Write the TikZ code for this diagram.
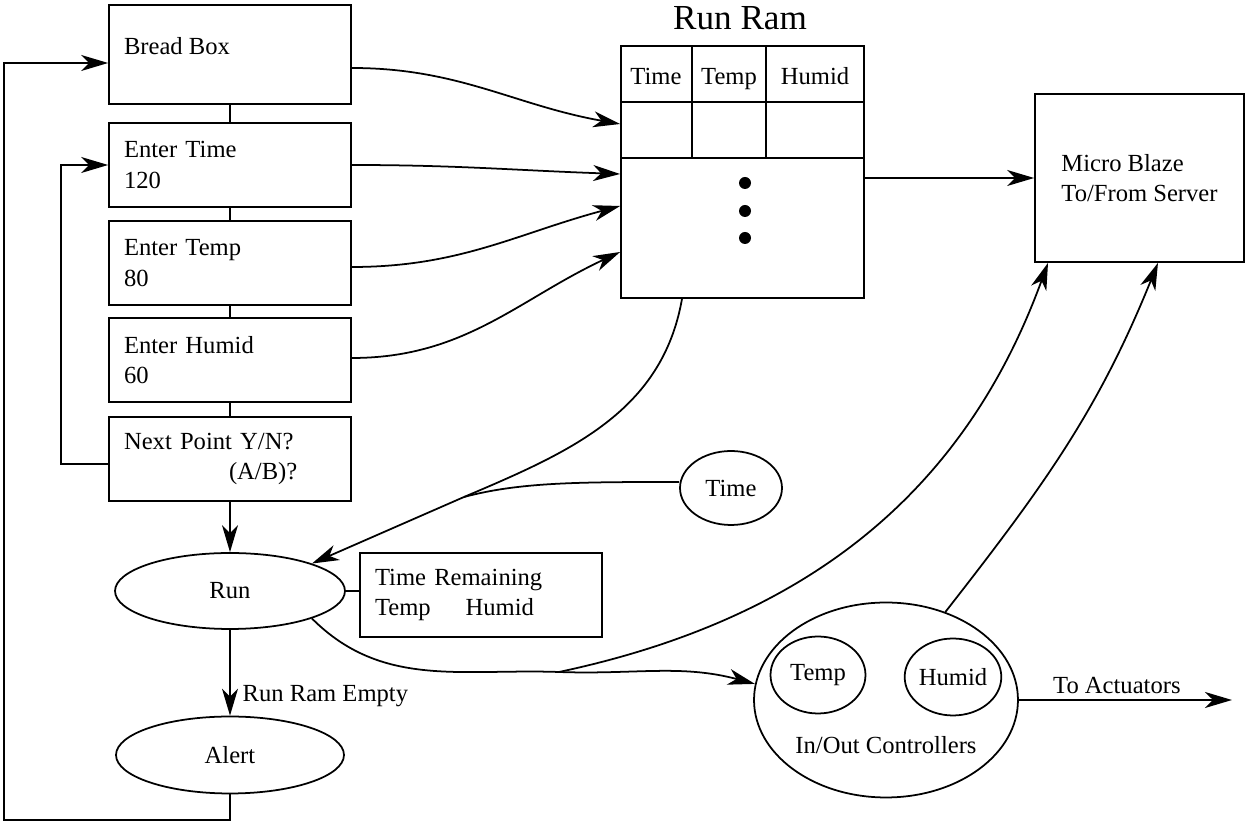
\documentclass[tikz,border=0pt]{standalone}
\usepackage{fontspec}
\setmainfont{Liberation Serif}
\usetikzlibrary{arrows.meta,shapes.geometric}

\begin{document}
\begin{tikzpicture}[x=0.02cm,y=0.02cm,line width=1pt,
  font=\fontsize{14}{17.5}\selectfont,
  arr/.style={-{Stealth[length=5.4mm,width=3.2mm,inset=1.6mm]}},
  blk/.style={draw,rectangle,minimum height=1.68cm,inner xsep=0.3cm,text width=4.24cm,align=left},
  oval/.style={draw,ellipse,inner sep=0pt}]
\useasboundingbox (0,0) rectangle (1249,825);

\node[blk,minimum height=1.98cm,label={[anchor=north west,inner sep=0pt,xshift=0.3cm,yshift=-0.64cm]north west:Bread Box}] (bread) at (230,770.5) {};
\node[blk] (etime) at (230,660) {Enter Time\\120};
\node[blk] (etemp) at (230,562) {Enter Temp\\80};
\node[blk] (ehumid) at (230,465) {Enter Humid\\60};
\node[blk] (next) at (230,366) {Next Point Y/N?\\\hspace*{2.1cm}(A/B)?};
\node[oval,minimum width=4.6cm,minimum height=1.52cm] (run) at (230,234) {Run};
\node[oval,minimum width=4.56cm,minimum height=1.54cm] (alert) at (230,70) {Alert};
\node[blk] (trem) at (481,230) {Time Remaining\\Temp\hspace{0.7cm}Humid};

\node[draw,minimum width=4.86cm,minimum height=5.04cm,inner sep=0pt] (ram) at (742.5,653) {};
\node[font=\fontsize{20}{24}\selectfont] (ramtitle) at (740,807) {Run Ram};
\draw (621,723) -- (864,723);
\draw (621,667) -- (864,667);
\draw (692,779) -- (692,667);
\draw (766,779) -- (766,667);
\node[anchor=base] (hTime) at (656,740) {Time};
\node[anchor=base] (hTemp) at (729,740) {Temp};
\node[anchor=base] (hHumid) at (815,740) {Humid};
\foreach \y in {642,614,587} \fill (745,\y) circle (0.12cm);

\node[draw,minimum width=4.18cm,minimum height=3.36cm,align=left] (mb) at (1139.5,647) {Micro Blaze\\To/From Server};
\node[oval,minimum width=2.04cm,minimum height=1.48cm] (time) at (731,337) {Time};
\node[oval,minimum width=5.28cm,minimum height=3.9cm] (io) at (886,125) {};
\node[oval,minimum width=1.9cm,minimum height=1.54cm] (iotemp) at (818,150) {Temp};
\node[oval,minimum width=1.88cm,minimum height=1.54cm] (iohum) at (953,148) {Humid};
\node (iolbl) at (886,80) {In/Out Controllers};

\coordinate (lpa) at (61,361);
\coordinate (lpb) at (4,5);
\coordinate (tj) at (464,328);
\coordinate (sp) at (559,153);
\coordinate (act) at (1232,0);

\foreach \a/\b in {bread/etime,etime/etemp,etemp/ehumid,ehumid/next} \draw (\a) -- (\b);
\draw[arr] (next) -- (run);
\draw[arr] (run) -- node[pos=0.77,right=0.12cm] {Run Ram Empty} (alert);
\draw (run.east) -- (run.east -| trem.west);
\draw[arr] (alert.south) |- (lpb) |- ([yshift=-0.17cm]bread.west);
\draw[arr] ([yshift=-0.1cm]next.west) -- (lpa) |- (etime.west);

\draw[arr] ([yshift=-0.27cm]bread.east) to[out=0,in=170] ([yshift=0.96cm]ram.west);
\draw[arr] (etime.east) to[out=0,in=178] ([yshift=-0.04cm]ram.west);
\draw[arr] ([yshift=-0.08cm]etemp.east) to[out=0,in=195] ([yshift=-0.68cm]ram.west);
\draw[arr] ([yshift=0.04cm]ehumid.east) to[out=0,in=205] ([yshift=-1.6cm]ram.west);
\draw[arr] ([yshift=-0.12cm]ram.east) -- (mb.west);

\draw ([xshift=-1.21cm]ram.south) to[out=-100,in=23] (tj);
\draw ([yshift=0.12cm]time.west) .. controls (580,343) and (520,343) .. (tj);
\draw[arr] (tj) -- (run.north east);

\draw (run.south east) to[out=-45,in=178] (sp);
\draw[arr] (sp) to[out=-2,in=165] (io.173);
\draw[arr] (sp) to[out=12,in=-110] ([xshift=-1.83cm]mb.south);
\draw[arr] (io.56) to[out=52,in=-112] ([xshift=0.37cm]mb.south);
\draw[arr] (io.east) -- node[pos=0.46,above] {To Actuators} (io.east -| act);
\end{tikzpicture}
\end{document}
